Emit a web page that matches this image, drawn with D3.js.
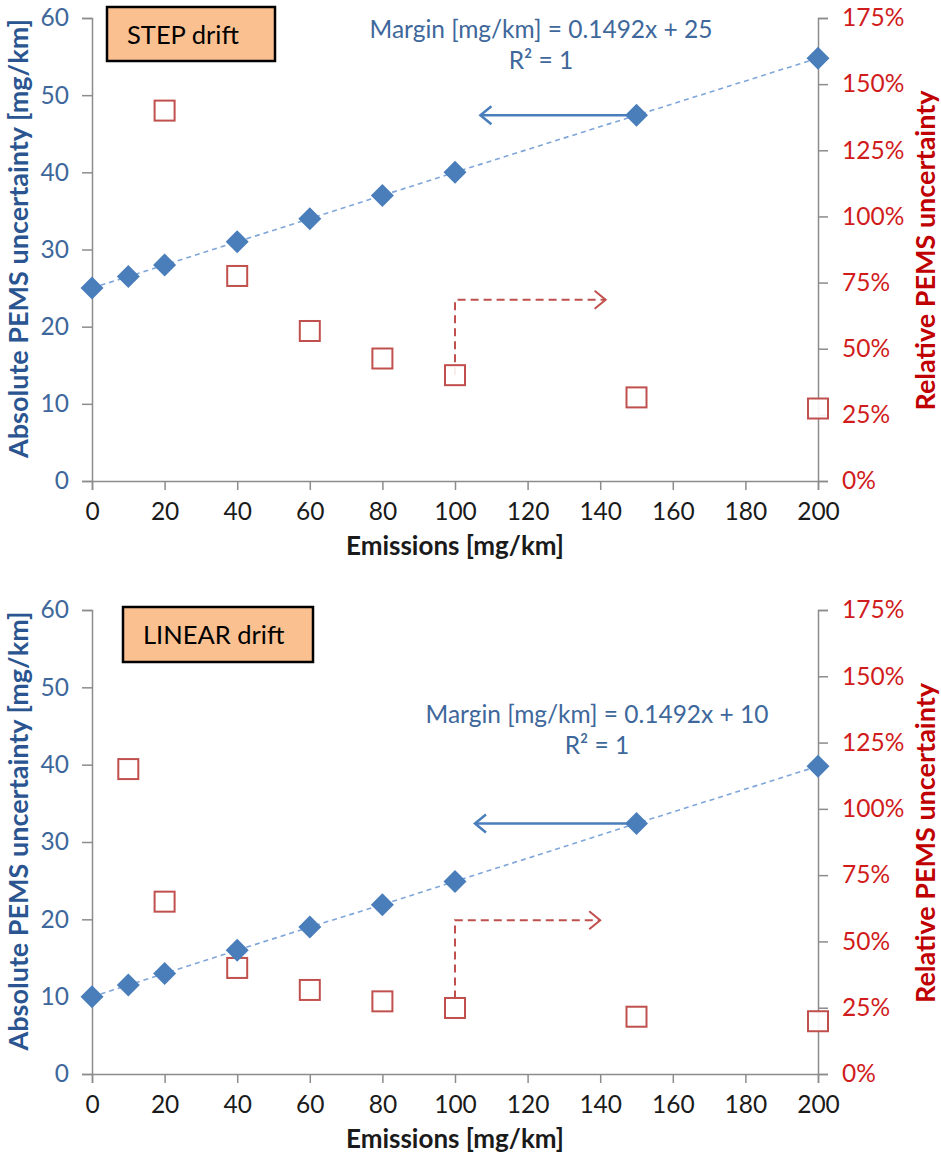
<!DOCTYPE html>
<html>
<head>
<meta charset="utf-8">
<script src="https://cdn.jsdelivr.net/npm/d3@7"></script>
<style>
  body { margin: 0; background: white; }
  svg text { font-family: Lato, "Open Sans", sans-serif; }
</style>
</head>
<body>
<svg id="chart"></svg>
<script>
// emissions (x) for the absolute uncertainty series
const emissions = [0, 10, 20, 40, 60, 80, 100, 150, 200];
const stepAbs = [25, 26.5, 28, 31, 34, 37, 40, 47.4, 54.8];
const linearAbs = [10, 11.5, 13, 16, 19, 21.9, 24.9, 32.4, 39.8];

// relative uncertainty (only the points inside the 0-175% range)
const stepRelX = [20, 40, 60, 80, 100, 150, 200];
const stepRel = [1.40, 0.775, 0.567, 0.463, 0.40, 0.316, 0.274];
const linearRelX = [10, 20, 40, 60, 80, 100, 150, 200];
const linearRel = [1.15, 0.65, 0.40, 0.317, 0.274, 0.249, 0.216, 0.199];

const xTicks = [0, 20, 40, 60, 80, 100, 120, 140, 160, 180, 200];
const leftTicks = [0, 10, 20, 30, 40, 50, 60];
const rightTicks = [0, 0.25, 0.5, 0.75, 1, 1.25, 1.5, 1.75];

const panelLabels = ["STEP drift", "LINEAR drift"];
const equations = ["Margin [mg/km] = 0.1492x + 25", "Margin [mg/km] = 0.1492x + 10"];

const W = 941, H = 1155;
const svg = d3.select("#chart").attr("width", W).attr("height", H);
svg.append("rect").attr("width", W).attr("height", H).attr("fill", "white");

const BLUE = "#4a7ebb";
const RED = "#c0504d";
const AXIS = "#8c8c8c";

const x = d3.scaleLinear().domain([0, 200]).range([92, 818]);

function drawPanel(cfg) {
    const yL = d3.scaleLinear().domain([0, 60]).range([cfg.bottom, cfg.top]);
    const yR = d3.scaleLinear().domain([0, 1.75]).range([cfg.bottom, cfg.top]);
    const g = svg.append("g");

    // axes
    const xAxis = g.append("g")
        .attr("transform", `translate(0,${cfg.bottom})`)
        .call(d3.axisBottom(x).tickValues(xTicks).tickSize(9).tickPadding(13));
    const lAxis = g.append("g")
        .attr("transform", `translate(${x(0)},0)`)
        .call(d3.axisLeft(yL).tickValues(leftTicks).tickSize(10).tickPadding(13));
    const rAxis = g.append("g")
        .attr("transform", `translate(${x(200)},0)`)
        .call(d3.axisRight(yR).tickValues(rightTicks).tickSize(10).tickPadding(14)
            .tickFormat(d3.format(".0%")));

    [xAxis, lAxis, rAxis].forEach(a => {
        a.select(".domain").attr("stroke", AXIS).attr("stroke-width", 1.5);
        a.selectAll(".tick line").attr("stroke", AXIS).attr("stroke-width", 1.5);
        a.selectAll(".tick text").style("font-size", "24.5px");
    });
    xAxis.selectAll(".tick text").attr("fill", "#1a1a1a");
    lAxis.selectAll(".tick text").attr("fill", "#3e679b");
    rAxis.selectAll(".tick text").attr("fill", "#d01c1c");

    // axis titles
    g.append("text")
        .attr("transform", `translate(28,${(cfg.top + cfg.bottom) / 2 - 11}) rotate(-90)`)
        .attr("text-anchor", "middle")
        .style("font-size", "27px").style("font-weight", "bold")
        .attr("fill", "#2a5590")
        .text("Absolute PEMS uncertainty [mg/km]");
    g.append("text")
        .attr("transform", `translate(935,${(cfg.top + cfg.bottom) / 2 + 1}) rotate(-90)`)
        .attr("text-anchor", "middle")
        .style("font-size", "27px").style("font-weight", "bold")
        .attr("fill", "#c00000")
        .text("Relative PEMS uncertainty");
    g.append("text")
        .attr("x", 455).attr("y", cfg.bottom + 74)
        .attr("text-anchor", "middle")
        .style("font-size", "26px").style("font-weight", "bold")
        .attr("fill", "#1a1a1a")
        .text("Emissions [mg/km]");

    // trend line
    g.append("path")
        .datum(d3.zip(emissions, cfg.abs))
        .attr("d", d3.line().x(d => x(d[0])).y(d => yL(d[1])))
        .attr("fill", "none")
        .attr("stroke", "#7fa6da")
        .attr("stroke-width", 1.6)
        .attr("stroke-dasharray", "5,4");

    // annotation arrows
    const ba = cfg.blueArrow;
    g.append("line")
        .attr("x1", x(ba[0])).attr("x2", x(ba[1]))
        .attr("y1", yL(ba[2])).attr("y2", yL(ba[2]))
        .attr("stroke", BLUE).attr("stroke-width", 2.5);
    g.append("path")
        .attr("d", `M${x(ba[1]) + 11},${yL(ba[2]) - 9}L${x(ba[1])},${yL(ba[2])}L${x(ba[1]) + 11},${yL(ba[2]) + 9}`)
        .attr("fill", "none").attr("stroke", BLUE).attr("stroke-width", 2.5);

    const ra = cfg.redArrow;
    g.append("path")
        .attr("d", `M${x(ra[0])},${yR(ra[1])}L${x(ra[0])},${yR(ra[2])}L${x(ra[3])},${yR(ra[2])}`)
        .attr("fill", "none").attr("stroke", RED).attr("stroke-width", 2)
        .attr("stroke-dasharray", "8,5");
    g.append("path")
        .attr("d", `M${x(ra[3]) - 11},${yR(ra[2]) - 9}L${x(ra[3])},${yR(ra[2])}L${x(ra[3]) - 11},${yR(ra[2]) + 9}`)
        .attr("fill", "none").attr("stroke", RED).attr("stroke-width", 2);

    // relative squares
    g.selectAll("rect.rel")
        .data(d3.zip(cfg.relX, cfg.rel))
        .join("rect")
        .attr("class", "rel")
        .attr("x", d => x(d[0]) - 10)
        .attr("y", d => yR(d[1]) - 10)
        .attr("width", 20).attr("height", 20)
        .attr("fill", "white").attr("fill-opacity", 0.9)
        .attr("stroke", RED).attr("stroke-width", 2);

    // absolute diamonds
    const r = 11.5;
    g.selectAll("path.abs")
        .data(d3.zip(emissions, cfg.abs))
        .join("path")
        .attr("class", "abs")
        .attr("d", `M0,${-r}L${r},0L0,${r}L${-r},0Z`)
        .attr("transform", d => `translate(${x(d[0])},${yL(d[1])})`)
        .attr("fill", BLUE);

    // equation
    const eq = g.append("text")
        .attr("text-anchor", "middle")
        .style("font-size", "24.5px")
        .attr("fill", "#3e679b");
    eq.append("tspan").attr("x", cfg.eqX).attr("y", cfg.eqY).text(cfg.equation);
    eq.append("tspan").attr("x", cfg.eqX).attr("y", cfg.eqY + 31).text("R² = 1");

    // label box
    g.append("rect")
        .attr("x", cfg.box[0]).attr("y", cfg.box[1])
        .attr("width", cfg.box[2]).attr("height", cfg.box[3])
        .attr("fill", "#fac090").attr("stroke", "black").attr("stroke-width", 2.5);
    g.append("text")
        .attr("x", cfg.box[0] + 20).attr("y", cfg.box[1] + 37)
        .style("font-size", "25.5px")
        .attr("fill", "black")
        .text(cfg.label);
}

drawPanel({
    top: 18, bottom: 481,
    abs: stepAbs, relX: stepRelX, rel: stepRel,
    blueArrow: [150, 107, 47.4],
    redArrow: [100, 0.40, 0.685, 141.5],
    equation: equations[0], eqX: 541, eqY: 38,
    box: [107, 7, 168, 54], label: panelLabels[0]
});

drawPanel({
    top: 610, bottom: 1074,
    abs: linearAbs, relX: linearRelX, rel: linearRel,
    blueArrow: [150, 105.5, 32.4],
    redArrow: [100, 0.285, 0.58, 140],
    equation: equations[1], eqX: 597, eqY: 723,
    box: [123, 607, 190, 55], label: panelLabels[1]
});
</script>
</body>
</html>
